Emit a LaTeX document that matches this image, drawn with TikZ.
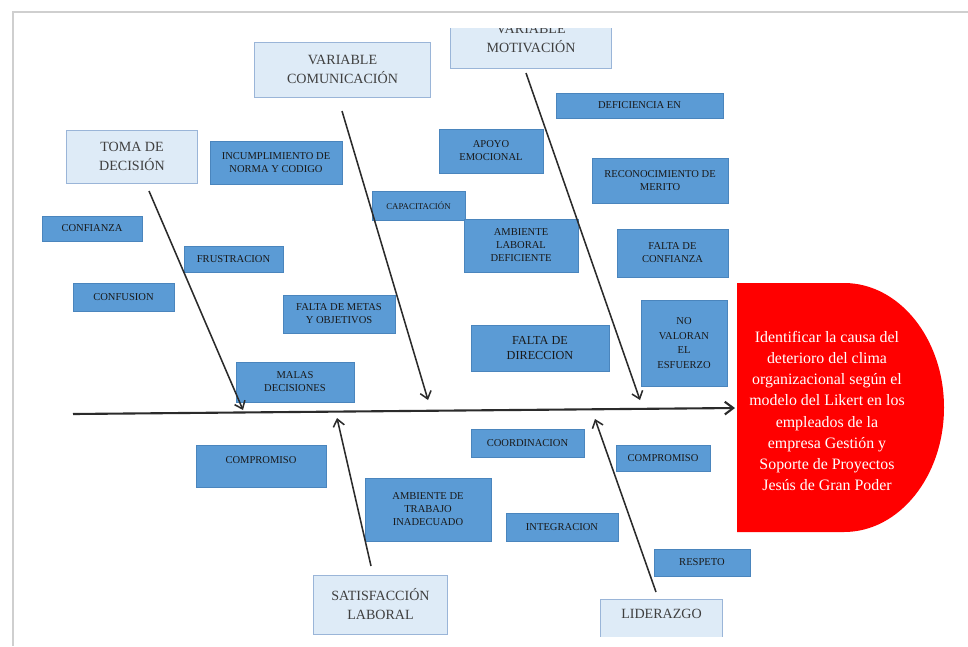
\documentclass[tikz,border=0pt]{standalone}
\usepackage{fontspec}
\setmainfont{Liberation Serif}
\usetikzlibrary{arrows.meta}
\definecolor{causeblue}{HTML}{5B9BD5}
\definecolor{causeline}{HTML}{4A85BD}
\definecolor{headfill}{HTML}{DEEBF7}
\definecolor{headline}{HTML}{9AB5D8}
\definecolor{headtext}{HTML}{3F3F3F}
\definecolor{bonegray}{HTML}{2B2B2B}
\definecolor{effectred}{HTML}{FF0000}
\definecolor{framegray}{HTML}{CFCFCF}

\begin{document}
\begin{tikzpicture}[x=0.025cm,y=-0.025cm,
    head/.style={draw=headline, fill=headfill, line width=0.7pt, inner sep=0pt,
        text=headtext, align=center, font=\fontsize{10}{13.5}\selectfont},
    cause/.style={draw=causeline, fill=causeblue, line width=0.5pt, inner sep=0pt,
        text=black!90, align=center, font=\fontsize{7.5}{9.25}\selectfont},
    bone/.style={draw=bonegray, line width=1.1pt, -{Straight Barb[length=5pt,width=8pt]}},
    spine/.style={draw=bonegray, line width=1.5pt, -{Straight Barb[length=6pt,width=9pt]}}]
        \useasboundingbox (0,0) rectangle (968,646);
        \draw[framegray, line width=1pt] (13,646) -- (13,12) -- (968,12);

        % cabezas
        \begin{scope}
            \clip (0,28) rectangle (968,636);
            \node[head, minimum width=3.25cm, minimum height=1.325cm] (toma) at (132,156.5) {TOMA DE\\DECISIÓN};
            \node[head, minimum width=4.375cm, minimum height=1.375cm] (comun) at (342.5,69.5) {VARIABLE\\COMUNICACIÓN};
            \node[head, minimum width=4cm, minimum height=1.475cm] (motiv) at (531,38.5) {VARIABLE\\MOTIVACIÓN};
            \node[head, minimum width=3.325cm, minimum height=1.475cm] (satis) at (380.5,604.5) {SATISFACCIÓN\\LABORAL};
            \node[head, minimum width=3.025cm, minimum height=1.025cm, text depth=8pt] (lider) at (661.5,619.5) {LIDERAZGO};
        \end{scope}

        % causas de arriba
        \node[cause, minimum width=3.3cm, minimum height=1.075cm] (incump) at (276,162.5) {INCUMPLIMIENTO DE\\NORMA Y CODIGO};
        \node[cause, minimum width=2.5cm, minimum height=0.625cm] (confianza) at (92,228.5) {CONFIANZA};
        \node[cause, minimum width=2.475cm, minimum height=0.65cm] (frustra) at (233.5,259) {FRUSTRACION};
        \node[cause, minimum width=2.525cm, minimum height=0.7cm] (confusion) at (123.5,297) {CONFUSION};
        \node[cause, minimum width=2.325cm, minimum height=0.725cm, font=\fontsize{6.3}{8}\selectfont] (capacit) at (418.5,205.5) {CAPACITACIÓN};
        \node[cause, minimum width=2.8cm, minimum height=0.95cm] (metas) at (339,314) {FALTA DE METAS\\Y OBJETIVOS};
        \node[cause, minimum width=2.95cm, minimum height=1cm] (malas) at (295,382) {MALAS\\DECISIONES};
        \node[cause, minimum width=2.6cm, minimum height=1.1cm] (apoyo) at (491,151) {APOYO\\EMOCIONAL};
        \node[cause, minimum width=2.85cm, minimum height=1.325cm] (amblab) at (521,245.5) {AMBIENTE\\LABORAL\\DEFICIENTE};
        \node[cause, minimum width=3.45cm, minimum height=1.15cm, font=\fontsize{8.7}{10.7}\selectfont] (direccion) at (540,348) {FALTA DE\\DIRECCION};
        \node[cause, minimum width=4.175cm, minimum height=0.625cm] (deficien) at (639.5,105.5) {DEFICIENCIA EN};
        \node[cause, minimum width=3.4cm, minimum height=1.125cm] (reconoc) at (660,180.5) {RECONOCIMIENTO DE\\MERITO};
        \node[cause, minimum width=2.775cm, minimum height=1.2cm] (faltconf) at (672.5,253) {FALTA DE\\CONFIANZA};
        \node[cause, minimum width=2.15cm, minimum height=2.15cm, font=\fontsize{7.5}{10.3}\selectfont] (novalor) at (684,343) {NO\\VALORAN\\EL\\ESFUERZO};

        % causas de abajo
        \node[cause, minimum width=3.25cm, minimum height=1.05cm, text depth=8.6pt] (compizq) at (261,466) {COMPROMISO};
        \node[cause, minimum width=2.825cm, minimum height=0.7cm] (coord) at (527.5,443) {COORDINACION};
        \node[cause, minimum width=3.15cm, minimum height=1.575cm] (ambtrab) at (428,509.5) {AMBIENTE DE\\TRABAJO\\INADECUADO};
        \node[cause, minimum width=2.8cm, minimum height=0.7cm] (integra) at (562,527) {INTEGRACION};
        \node[cause, minimum width=2.35cm, minimum height=0.65cm] (compder) at (663,458) {COMPROMISO};
        \node[cause, minimum width=2.4cm, minimum height=0.675cm] (respeto) at (702,562.5) {RESPETO};

        % efecto
        \fill[effectred] (737,283) -- (844,283)
            arc[start angle=-90, end angle=90, x radius=100, y radius=124.5] -- (737,532) -- cycle;
        \node[text=white, align=center, font=\fontsize{11.3}{15}\selectfont] (efecto) at (827,411)
            {Identificar la causa del\\deterioro del clima\\organizacional según el\\modelo del Likert en los\\empleados de la\\empresa Gestión y\\Soporte de Proyectos\\Jesús de Gran Poder};

        % espina y huesos
        \coordinate (spineA) at (73,414);
        \coordinate (spineB) at (735,408);
        \coordinate (tomaA) at (149,191);
        \coordinate (tomaB) at (243,410);
        \coordinate (comunA) at (342,111);
        \coordinate (comunB) at (428,400);
        \coordinate (motivA) at (526,73);
        \coordinate (motivB) at (640,400);
        \coordinate (satisA) at (371,566);
        \coordinate (satisB) at (337,418);
        \coordinate (liderA) at (656,592);
        \coordinate (liderB) at (595,419);
        \draw[spine] (spineA) -- (spineB);
        \draw[bone] (tomaA) -- (tomaB);
        \draw[bone] (comunA) -- (comunB);
        \draw[bone] (motivA) -- (motivB);
        \draw[bone] (satisA) -- (satisB);
        \draw[bone] (liderA) -- (liderB);
\end{tikzpicture}
\end{document}
